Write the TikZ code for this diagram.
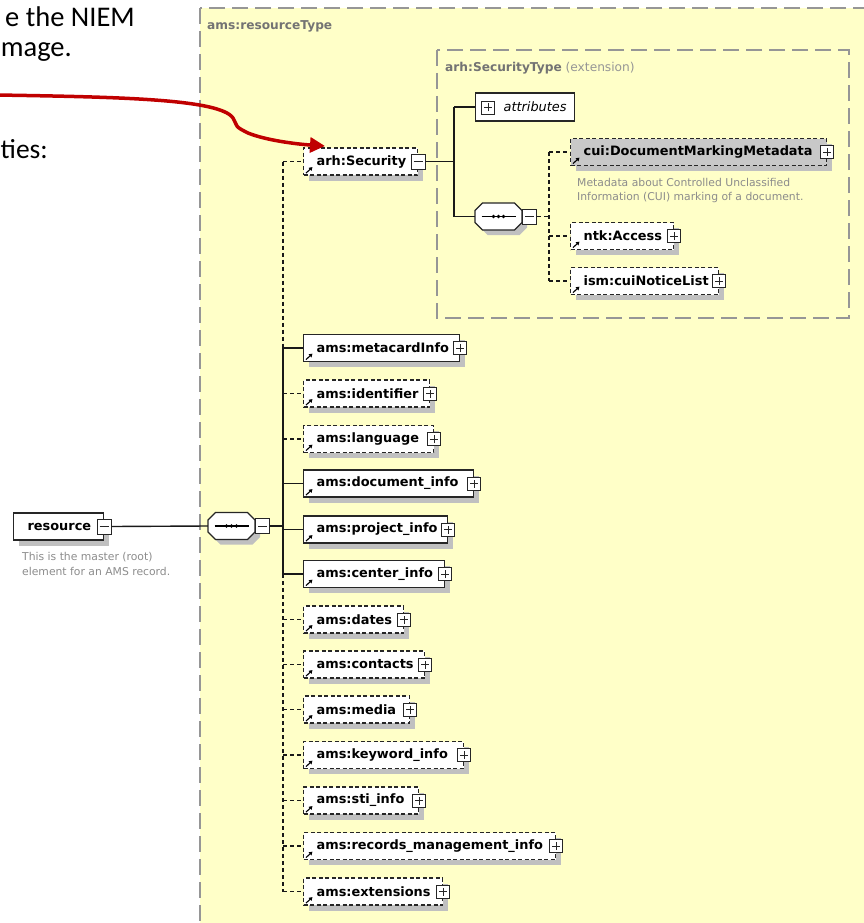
\documentclass[tikz,border=0pt]{standalone}
\usepackage{fontspec}
\setmainfont{DejaVu Sans}
\newfontfamily\slidefont{Carlito}
\usetikzlibrary{arrows.meta,shadows,calc}

\definecolor{panel}{RGB}{255,255,200}
\definecolor{framegray}{RGB}{150,150,150}
\definecolor{shade}{RGB}{192,192,192}
\definecolor{cuifill}{RGB}{200,200,200}
\definecolor{notegray}{RGB}{140,140,140}
\definecolor{titlegray}{RGB}{115,115,115}
\definecolor{lightgray}{RGB}{150,150,150}
\definecolor{pointer}{RGB}{192,0,0}

\newcommand{\elemfont}{\fontsize{12.9}{14}\selectfont\bfseries}
\newcommand{\notefont}{\fontsize{10.8}{14.5}\selectfont}
\newcommand{\headfont}{\fontsize{12.2}{14}\selectfont}

% element box with its expand/collapse toggle and reference mark
% #1 style, #2 name, #3 label, #4 width, #5 x, #6 y, #7 toggle style
\newcommand{\element}[7]{%
  \node[#1] (#2) at (#5,#6) {\makebox[#4pt][l]{\kern13pt #3}};
  \node[#7] (#2-x) at (#2.east) {};
  \draw[refarrow] ([shift={(3,-2.5)}]#2.south west) -- ++(6.5,-6);
}

% octagonal path around a centre point
\newcommand{\octo}[3]{%
  \path[#1] (#2-23.5,#3-6) -- (#2-16,#3-13.5) -- (#2+16,#3-13.5)
    -- (#2+23.5,#3-6) -- (#2+23.5,#3+6) -- (#2+16,#3+13.5)
    -- (#2-16,#3+13.5) -- (#2-23.5,#3+6) -- cycle;
}

% sequence compositor: #1 name, #2 x, #3 y
\newcommand{\sequence}[3]{%
  \octo{fill=shade}{#2+5}{#3+5}
  \node[seqcore] (#1) at (#2,#3) {};
  \octo{draw=black!85, line width=1.2pt, fill=white}{#2}{#3}
  \draw[line width=1.2pt] (#2-17,#3) -- (#2+17,#3);
  \foreach \d in {-5,0,5} \fill (#2+\d,#3) circle (1.9);
  \node[minus] (#1-x) at (#2+31,#3) {};
}

\begin{document}
\begin{tikzpicture}[x=1pt, y=-1pt,
  box/.style={draw=black!85, line width=1.2pt, fill=white, minimum height=27pt,
    inner xsep=0pt, inner ysep=0pt, anchor=west, font=\elemfont},
  elem/.style={box, drop shadow={shadow xshift=5.5pt, shadow yshift=-5.5pt,
    fill=shade, draw=none, opacity=1}},
  opt/.style={elem, dash pattern=on 4pt off 2.5pt},
  toggle/.style={draw=black!85, fill=white, line width=0.9pt, minimum width=13pt,
    minimum height=13pt, inner sep=0pt},
  plus/.style={toggle, path picture={
    \draw[line width=0.8pt] ([xshift=2.5pt]path picture bounding box.west)
      -- ([xshift=-2.5pt]path picture bounding box.east);
    \draw[line width=0.8pt] ([yshift=2.5pt]path picture bounding box.south)
      -- ([yshift=-2.5pt]path picture bounding box.north);}},
  minus/.style={toggle, minimum width=14pt, minimum height=15pt, path picture={
    \draw[line width=0.8pt] ([xshift=2.5pt]path picture bounding box.west)
      -- ([xshift=-2.5pt]path picture bounding box.east);}},
  seqcore/.style={minimum width=47pt, minimum height=27pt, inner sep=0pt},
  refarrow/.style={line width=1.1pt, -{Triangle[length=3.4pt,width=4pt]}},
  conn/.style={line width=1.4pt, draw=black!90},
  optconn/.style={conn, dash pattern=on 4pt off 3pt},
  frame/.style={draw=framegray, line width=1.4pt, dash pattern=on 16pt off 7pt},
  note/.style={anchor=west, align=left, inner sep=0pt, font=\notefont, text=notegray},
  slide/.style={anchor=base east, inner sep=0pt, font=\slidefont\fontsize{28.5}{30}\selectfont}
]
\useasboundingbox (0,0) rectangle (863,923);

% slide text on the left
\node[slide] (line-a) at (135,27) {e the NIEM};
\node[slide] (line-b) at (72,57) {mage.};
\node[slide, font=\slidefont\fontsize{27.5}{30}\selectfont] (line-c) at (48,158) {ties:};

% complex type panel
\path[frame, fill=panel] (200,8) rectangle (905,960);
\node[anchor=west, inner sep=0pt, font=\headfont\bfseries, text=titlegray]
  (panel-title) at (207,26) {ams:resourceType};

% extension panel for the security type
\path[frame] (437,50) rectangle (849,318);
\node[anchor=west, inner sep=0pt, font=\headfont, text=lightgray]
  (ext-title) at (445,68) {\textcolor{titlegray}{\bfseries arh:SecurityType} (extension)};

% root element
\node[elem] (res) at (13,526.5) {\makebox[90pt][l]{\kern14pt resource}};
\node[minus] (res-x) at (res.east) {};
\node[note] (res-note) at (22,564) {This is the master (root)\\element for an AMS record.};

% main sequence
\sequence{mseq}{231.5}{526}

% children of the main sequence
\element{opt}{sec}{arh:Security}{114}{303}{161.5}{minus}
\element{elem}{meta}{ams:metacardInfo}{156}{303}{348}{plus}
\element{opt}{ident}{ams:identifier}{126}{303}{393.5}{plus}
\element{opt}{lang}{ams:language}{130}{303}{439}{plus}
\element{elem}{doc}{ams:document\_info}{170}{303}{483.5}{plus}
\element{elem}{proj}{ams:project\_info}{144}{303}{529.5}{plus}
\element{elem}{cent}{ams:center\_info}{141}{303}{574}{plus}
\element{opt}{dates}{ams:dates}{100}{303}{619.5}{plus}
\element{opt}{cont}{ams:contacts}{121}{303}{664.5}{plus}
\element{opt}{media}{ams:media}{106}{303}{709.5}{plus}
\element{opt}{kw}{ams:keyword\_info}{160}{303}{755}{plus}
\element{opt}{sti}{ams:sti\_info}{115}{303}{800.5}{plus}
\element{opt}{rec}{ams:records\_management\_info}{252}{303}{846}{plus}
\element{opt}{ext}{ams:extensions}{139}{303}{891.5}{plus}

% security type content
\node[box, minimum height=28pt] (attr) at (475,107)
  {\makebox[99pt][l]{\kern28pt\mdseries\itshape attributes}};
\node[plus] (attr-x) at (488,107.5) {};
\sequence{iseq}{498.5}{216.5}
\element{opt, fill=cuifill}{cui}{cui:DocumentMarkingMetadata}{256}{570}{152}{plus}
\node[note] (cui-note) at (577,190.5)
  {Metadata about Controlled Unclassified\\Information (CUI) marking of a document.};
\element{opt}{ntk}{ntk:Access}{103}{570}{236}{plus}
\element{opt}{ism}{ism:cuiNoticeList}{148}{570}{281}{plus}

% connectors of the main sequence
\coordinate (spine) at (283,0);
\draw[conn] (res-x.east) -- (mseq.west);
\draw[conn] (mseq-x.east) -- (spine |- mseq-x.east);
\draw[optconn] (spine |- sec.west) -- (spine |- meta.west);
\draw[conn] (spine |- meta.west) -- (spine |- cent.west);
\draw[optconn] (spine |- cent.west) -- (spine |- ext.west);
\foreach \n in {sec,ident,lang,dates,cont,media,kw,sti,rec,ext}
  \draw[optconn] (spine |- \n.west) -- (\n.west);
\foreach \n in {meta,doc,proj,cent}
  \draw[conn] (spine |- \n.west) -- (\n.west);

% connectors of the security type
\coordinate (secbus) at (454,0);
\draw[conn] (sec-x.east) -- (secbus |- sec-x.east);
\draw[conn] (secbus |- attr.west) -- (secbus |- iseq.west);
\draw[conn] (secbus |- attr.west) -- (attr.west);
\draw[conn] (secbus |- iseq.west) -- (iseq.west);

\coordinate (ibus) at (549,0);
\draw[optconn] (iseq-x.east) -- (ibus |- iseq-x.east);
\draw[optconn] (ibus |- cui.west) -- (ibus |- ism.west);
\foreach \n in {cui,ntk,ism}
  \draw[optconn] (ibus |- \n.west) -- (\n.west);

% red call-out arrow
\coordinate (callout-start) at (-3,95);
\coordinate (callout-tip) at (325,146);
\draw[pointer, line width=3.5pt, line cap=round, -{Triangle[length=15pt,width=15pt]}]
  (callout-start) .. controls (120,97) and (220,99) .. (233,118)
  .. controls (238,127) and (234,126) .. (248,133)
  .. controls (265,140) and (295,144) .. (callout-tip);
\end{tikzpicture}
\end{document}
